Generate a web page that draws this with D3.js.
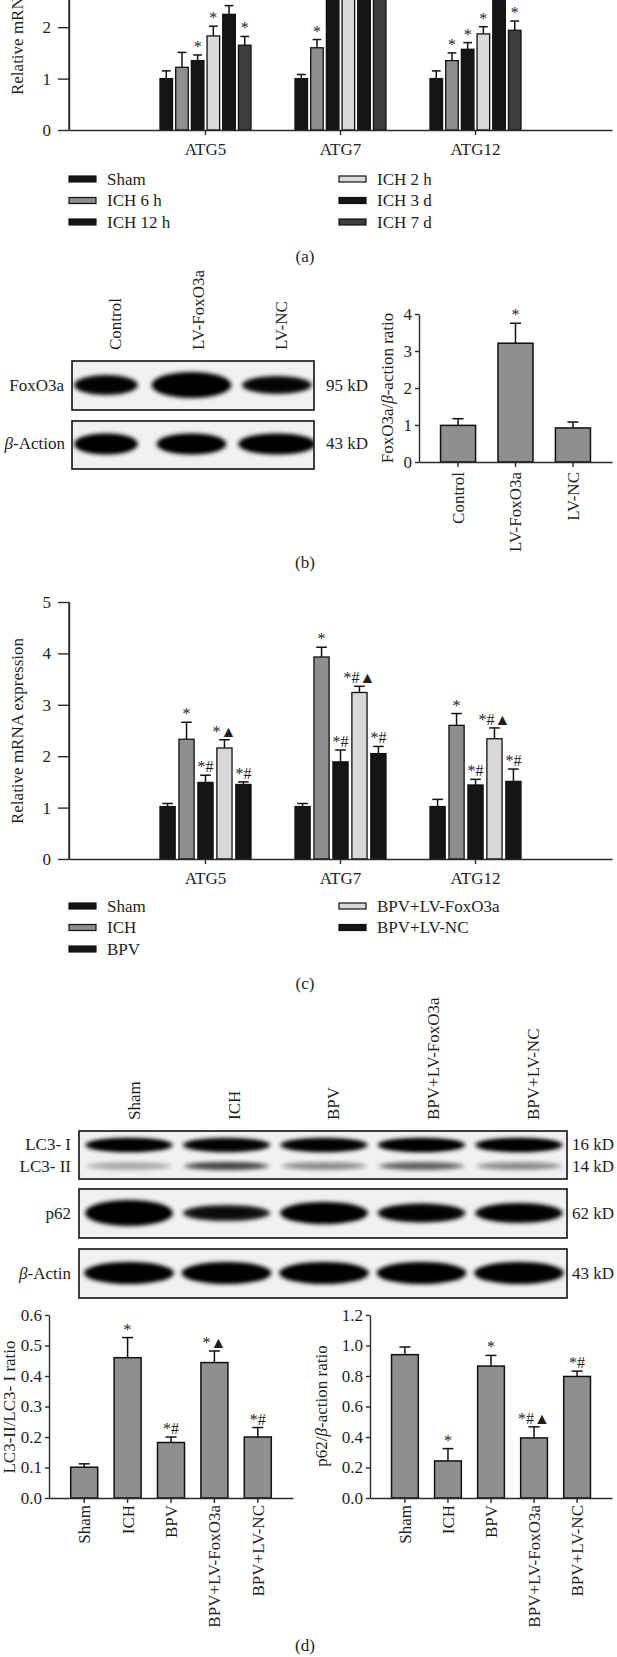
<!DOCTYPE html>
<html>
<head>
<meta charset="utf-8">
<script src="https://cdn.jsdelivr.net/npm/d3@7"></script>
<style>
  body { margin: 0; background: #fff; }
  svg text { font-family: "Liberation Serif", "Times New Roman", serif; fill: #1e1e1e; }
</style>
</head>
<body>
<div id="fig"></div>
<script>
// ---- data ----
const genes = ['ATG5', 'ATG7', 'ATG12']

// (a) time course
const timeGroups = ['Sham', 'ICH 6 h', 'ICH 12 h', 'ICH 2 h', 'ICH 3 d', 'ICH 7 d']
const timeMean = [[1.00, 1.22, 1.35, 1.83, 2.25, 1.65], [1.00, 1.60, 3.00, 3.60, 4.20, 3.30], [1.00, 1.35, 1.57, 1.87, 2.70, 1.94]]
const timeErr = [[1.15, 1.51, 1.46, 2.02, 2.42, 1.82], [1.08, 1.76, 3.20, 3.80, 4.40, 3.50], [1.15, 1.50, 1.70, 2.01, 2.90, 2.12]]
const timeMarks = [['', '', '*', '*', '', '*'], ['', '*', '', '', '', ''], ['', '*', '*', '*', '', '*']]
const timeFill = ['#151515', '#8e8e8e', '#151515', '#dadada', '#151515', '#3d3d3d']
const timeTicks = [0, 1, 2]

// (b) FoxO3a overexpression
const lvGroups = ['Control', 'LV-FoxO3a', 'LV-NC']
const foxMean = [0.99, 3.21, 0.92]
const foxErr = [1.17, 3.75, 1.08]
const foxMarks = ['', '*', '']
const foxBandDark = [0.95, 1.0, 0.92]
const foxBandWidth = [64, 80, 70]
const actBBandDark = [1, 1, 1]
const actBBandWidth = [64, 70, 78]

// (c) treatments
const treatGroups = ['Sham', 'ICH', 'BPV', 'BPV+LV-FoxO3a', 'BPV+LV-NC']
const treatMean = [[1.02, 2.33, 1.49, 2.16, 1.45], [1.02, 3.93, 1.89, 3.24, 2.05], [1.02, 2.60, 1.44, 2.34, 1.51]]
const treatErr = [[1.08, 2.66, 1.63, 2.32, 1.50], [1.08, 4.12, 2.12, 3.36, 2.19], [1.16, 2.83, 1.55, 2.55, 1.75]]
const treatMarks = [['', '*', '*#', '*▲', '*#'], ['', '*', '*#', '*#▲', '*#'], ['', '*', '*#', '*#▲', '*#']]
const treatFill = ['#151515', '#8e8e8e', '#151515', '#d8d8d8', '#151515']
const treatTicks = [0, 1, 2, 3, 4, 5]

// (d) western blot quantification
const lc3Mean = [0.101, 0.46, 0.182, 0.444, 0.20]
const lc3Err = [0.112, 0.526, 0.20, 0.482, 0.231]
const lc3Marks = ['', '*', '*#', '*▲', '*#']
const p62Mean = [0.94, 0.243, 0.865, 0.394, 0.797]
const p62Err = [0.99, 0.324, 0.935, 0.467, 0.832]
const p62Marks = ['', '*', '*', '*#▲', '*#']
const lc3IDark = [1, 0.95, 0.97, 1, 1]
const lc3IIDark = [0.25, 0.6, 0.35, 0.5, 0.35]
const p62Dark = [1.0, 0.85, 1.0, 0.95, 0.97]
const p62Thick = [26, 16, 22, 19, 20]
const actDDark = [1, 1, 1, 1, 1]

const W = 617, H = 1657
const FS = 17
const svg = d3.select('#fig').append('svg').attr('width', W).attr('height', H)

const defs = svg.append('defs')
defs.append('filter').attr('id', 'blur').attr('x', '-20%').attr('y', '-100%').attr('width', '140%').attr('height', '300%')
  .append('feGaussianBlur').attr('stdDeviation', 2.3)

function styleAxis(g, fs) {
  g.selectAll('path, line').attr('stroke', '#2a2a2a').attr('stroke-width', 1.4)
  g.selectAll('text').attr('font-size', fs).attr('fill', '#1e1e1e')
    .style('font-family', '"Liberation Serif", "Times New Roman", serif')
}

function errorBars(g, xs, bw, y, means, errs, marks) {
  const cap = Math.min(11, bw * 0.7)
  means.forEach((m, i) => {
    const cx = xs[i] + bw / 2
    g.append('line').attr('x1', cx).attr('x2', cx).attr('y1', y(m)).attr('y2', y(errs[i]))
      .attr('stroke', '#111').attr('stroke-width', 1.5)
    g.append('line').attr('x1', cx - cap / 2).attr('x2', cx + cap / 2).attr('y1', y(errs[i])).attr('y2', y(errs[i]))
      .attr('stroke', '#111').attr('stroke-width', 1.5)
    if (marks[i]) {
      g.append('text').attr('x', cx).attr('y', y(errs[i]) - 3).attr('text-anchor', 'middle')
        .attr('font-size', 16).attr('fill', '#222').text(marks[i])
    }
  })
}

// grouped bar chart (panels a and c)
function groupedChart(cfg) {
  const g = svg.append('g')
  const y = d3.scaleLinear().domain([0, 5]).range([cfg.y0, cfg.y0 - 257])
  const x0 = d3.scaleBand().domain(genes).range([69, 612]).paddingInner(0.326).paddingOuter(0.674)
  const x1 = d3.scaleBand().domain(cfg.groups).range([0, x0.bandwidth()]).paddingInner(0.2)

  genes.forEach((gene, gi) => {
    const gg = g.append('g')
    const xs = cfg.groups.map(k => x0(gene) + x1(k))
    gg.selectAll('rect').data(cfg.mean[gi]).enter().append('rect')
      .attr('x', (d, i) => xs[i]).attr('width', x1.bandwidth())
      .attr('y', d => y(d)).attr('height', d => y(0) - y(d))
      .attr('fill', (d, i) => cfg.fill[i]).attr('stroke', '#111').attr('stroke-width', 1.3)
    errorBars(gg, xs, x1.bandwidth(), y, cfg.mean[gi], cfg.err[gi], cfg.marks[gi])
  })

  // y axis line runs to the top of the value range even when only some ticks are labelled
  g.append('line').attr('x1', 69).attr('x2', 69).attr('y1', y(0)).attr('y2', y(5))
    .attr('stroke', '#2a2a2a').attr('stroke-width', 1.4)
  const ya = g.append('g').attr('transform', 'translate(69,0)')
    .call(d3.axisLeft(y).tickValues(cfg.ticks).tickFormat(d3.format('d')).tickSize(11).tickPadding(7).tickSizeOuter(0))
  styleAxis(ya, FS)
  const xa = g.append('g').attr('transform', `translate(0,${cfg.y0})`)
    .call(d3.axisBottom(x0).tickSize(5).tickPadding(8).tickSizeOuter(0))
  styleAxis(xa, FS)

  g.append('text').attr('transform', `translate(17,${cfg.y0 - 128}) rotate(-90)`)
    .attr('text-anchor', 'middle').attr('dy', '0.35em').attr('font-size', FS)
    .text('Relative mRNA expression')

  // legend, two columns
  const half = Math.ceil(cfg.groups.length / 2)
  cfg.groups.forEach((k, i) => {
    const col = i < half ? 0 : 1
    const row = i < half ? i : i - half
    const lx = col === 0 ? 69 : 339
    const ly = cfg.legendY + row * 21.5
    g.append('rect').attr('x', lx).attr('y', ly - 3).attr('width', 27).attr('height', 6)
      .attr('fill', cfg.fill[i]).attr('stroke', '#111').attr('stroke-width', 1.2)
    g.append('text').attr('x', lx + 38).attr('y', ly).attr('dy', '0.35em').attr('font-size', FS).text(k)
  })
}

// simple bar chart (panels b and d)
function simpleChart(cfg) {
  const g = svg.append('g')
  const y = d3.scaleLinear().domain([0, cfg.max]).range([cfg.y0, cfg.yTop])
  const x = d3.scaleBand().domain(cfg.groups).range([cfg.x0, cfg.x1])
    .paddingInner(cfg.pad).paddingOuter(cfg.outer)
  const xs = cfg.groups.map(k => x(k))

  g.selectAll('rect').data(cfg.mean).enter().append('rect')
    .attr('x', (d, i) => xs[i]).attr('width', x.bandwidth())
    .attr('y', d => y(d)).attr('height', d => y(0) - y(d))
    .attr('fill', '#8f8f8f').attr('stroke', '#111').attr('stroke-width', 1.5)
  errorBars(g, xs, x.bandwidth(), y, cfg.mean, cfg.err, cfg.marks)

  const ya = g.append('g').attr('transform', `translate(${cfg.x0},0)`)
    .call(d3.axisLeft(y).ticks(cfg.ticks).tickFormat(cfg.fmt).tickSize(4).tickPadding(3).tickSizeOuter(0))
  styleAxis(ya, FS)
  const xa = g.append('g').attr('transform', `translate(0,${cfg.y0})`)
    .call(d3.axisBottom(x).tickSize(5).tickSizeOuter(0))
  styleAxis(xa, FS)
  xa.selectAll('text').attr('transform', 'rotate(-90)').attr('text-anchor', 'end')
    .attr('x', -cfg.labelGap).attr('y', 0).attr('dy', '0.35em')

  g.append('text').attr('transform', `translate(${cfg.labelX},${cfg.labelY}) rotate(-90)`)
    .attr('text-anchor', 'middle').attr('dy', '0.35em').attr('font-size', FS)
    .html(cfg.label)
}

// western blot strips
function blotBox(g, id, x0, x1, yTop, yBot) {
  defs.append('clipPath').attr('id', id).append('rect')
    .attr('x', x0).attr('y', yTop).attr('width', x1 - x0).attr('height', yBot - yTop)
  g.append('rect').attr('x', x0).attr('y', yTop).attr('width', x1 - x0).attr('height', yBot - yTop)
    .attr('fill', '#f1f1f1')
  const layer = g.append('g').attr('clip-path', `url(#${id})`)
  g.append('rect').attr('x', x0).attr('y', yTop).attr('width', x1 - x0).attr('height', yBot - yTop)
    .attr('fill', 'none').attr('stroke', '#111').attr('stroke-width', 1.6)
  return layer
}

function bands(layer, lanes, xLane, cy, widths, thick, dark) {
  const val = (v, i) => (Array.isArray(v) ? v[i] : v)
  layer.selectAll(null).data(lanes).enter().append('ellipse')
    .attr('cx', d => xLane(d)).attr('cy', cy)
    .attr('rx', (d, i) => val(widths, i) / 2)
    .attr('ry', (d, i) => val(thick, i) / 2)
    .attr('fill', '#030303').attr('opacity', (d, i) => dark[i])
    .attr('filter', 'url(#blur)')
  // dense core of each band
  layer.selectAll(null).data(lanes).enter().append('ellipse')
    .attr('cx', d => xLane(d)).attr('cy', cy)
    .attr('rx', (d, i) => val(widths, i) * 0.42)
    .attr('ry', (d, i) => val(thick, i) * 0.3)
    .attr('fill', '#000').attr('opacity', (d, i) => dark[i] * dark[i])
    .attr('filter', 'url(#blur)')
}

function laneLabels(lanes, xl, bottom) {
  svg.append('g').selectAll('text').data(lanes).enter().append('text')
    .attr('transform', d => `translate(${xl(d)},${bottom}) rotate(-90)`)
    .attr('dy', '0.35em').attr('font-size', FS).text(d => d)
}

function sideLabel(x, y, anchor, txt) {
  svg.append('text').attr('x', x).attr('y', y).attr('dy', '0.35em').attr('text-anchor', anchor)
    .attr('font-size', FS).html(txt)
}

function panelTag(y, t) {
  svg.append('text').attr('x', 305).attr('y', y).attr('dy', '0.35em').attr('text-anchor', 'middle')
    .attr('font-size', FS).text(t)
}

// ---- panel (a) ----
groupedChart({ y0: 130, groups: timeGroups, mean: timeMean, err: timeErr, marks: timeMarks, fill: timeFill, ticks: timeTicks, legendY: 179 })
panelTag(256, '(a)')

// ---- panel (b) ----
const laneB = d3.scalePoint().domain(lvGroups).range([106, 277])
const laneBText = d3.scalePoint().domain(lvGroups).range([115, 281])
laneLabels(lvGroups, laneBText, 350)
const gb = svg.append('g')
const fb = blotBox(gb, 'clipFox', 72, 314, 361, 410)
bands(fb, lvGroups, laneB, 385, foxBandWidth, [20, 26, 18], foxBandDark)
const ab = blotBox(gb, 'clipActB', 72, 314, 421, 469)
bands(ab, lvGroups, laneB, 444, actBBandWidth, 21, actBBandDark)
sideLabel(64, 385, 'end', 'FoxO3a')
sideLabel(65, 443, 'end', '<tspan font-style="italic">β</tspan>-Action')
sideLabel(326, 385, 'start', '95 kD')
sideLabel(326, 443, 'start', '43 kD')

simpleChart({
  groups: lvGroups, mean: foxMean, err: foxErr, marks: foxMarks,
  max: 4, ticks: 4, fmt: d3.format('d'), y0: 462, yTop: 314,
  x0: 419, x1: 612, pad: 0.39, outer: 0.375, labelGap: 10,
  labelX: 387, labelY: 388,
  label: 'FoxO3a/<tspan font-style="italic">β</tspan>-action ratio'
})
panelTag(562, '(b)')

// ---- panel (c) ----
groupedChart({ y0: 859, groups: treatGroups, mean: treatMean, err: treatErr, marks: treatMarks, fill: treatFill, ticks: treatTicks, legendY: 906 })
panelTag(983, '(c)')

// ---- panel (d) blots ----
const laneD = d3.scalePoint().domain(treatGroups).range([129, 519])
const laneDText = d3.scalePoint().domain(treatGroups).range([134, 533])
laneLabels(treatGroups, laneDText, 1120)
const gd = svg.append('g')
const lc3 = blotBox(gd, 'clipLc3', 79, 567, 1131, 1179)
bands(lc3, treatGroups, laneD, 1145, 88, 14, lc3IDark)
bands(lc3, treatGroups, laneD, 1166, 86, 8, lc3IIDark)
const p62 = blotBox(gd, 'clipP62', 79, 567, 1189, 1238)
bands(p62, treatGroups, laneD, 1213, 88, p62Thick, p62Dark)
const actD = blotBox(gd, 'clipActD', 79, 567, 1249, 1298)
bands(actD, treatGroups, laneD, 1273, 90, 22, actDDark)
sideLabel(71, 1144, 'end', 'LC3- I')
sideLabel(71, 1166, 'end', 'LC3- II')
sideLabel(71, 1213, 'end', 'p62')
sideLabel(71, 1273, 'end', '<tspan font-style="italic">β</tspan>-Actin')
sideLabel(572, 1144, 'start', '16 kD')
sideLabel(572, 1166, 'start', '14 kD')
sideLabel(572, 1213, 'start', '62 kD')
sideLabel(572, 1273, 'start', '43 kD')

// ---- panel (d) charts ----
simpleChart({
  groups: treatGroups, mean: lc3Mean, err: lc3Err, marks: lc3Marks,
  max: 0.6, ticks: 6, fmt: d3.format('.1f'), y0: 1498, yTop: 1315,
  x0: 49, x1: 293, pad: 0.378, outer: 0.5, labelGap: 7,
  labelX: 9, labelY: 1407, label: 'LC3-II/LC3- I ratio'
})
simpleChart({
  groups: treatGroups, mean: p62Mean, err: p62Err, marks: p62Marks,
  max: 1.2, ticks: 6, fmt: d3.format('.1f'), y0: 1498, yTop: 1315,
  x0: 370, x1: 612, pad: 0.378, outer: 0.5, labelGap: 7,
  labelX: 321, labelY: 1406,
  label: 'p62/<tspan font-style="italic">β</tspan>-action ratio'
})
panelTag(1645, '(d)')
</script>
</body>
</html>
